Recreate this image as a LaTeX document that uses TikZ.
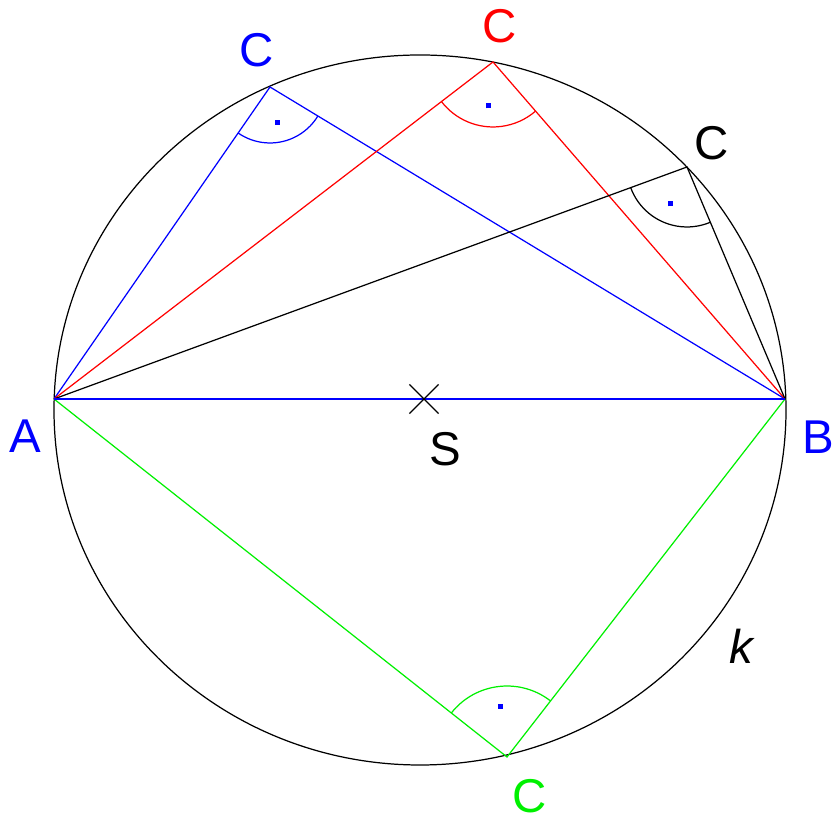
\documentclass[tikz,border=0pt]{standalone}
\usepackage{fontspec}
\setmainfont{Liberation Sans}
\usepackage{tikz}
\usetikzlibrary{angles,quotes,shapes.misc}
\definecolor{colBlue}{RGB}{0,0,255}
\definecolor{colRed}{RGB}{255,0,0}
\definecolor{colGreen}{RGB}{0,240,0}
\newcommand{\rdot}{\textcolor{colBlue}{\rule{0.1cm}{0.1cm}}}
\tikzset{
  seg/.style   = {line width=0.7pt},
  bseg/.style  = {seg, draw=colBlue},
  rseg/.style  = {seg, draw=colRed},
  gseg/.style  = {seg, draw=colGreen},
  kseg/.style  = {seg, draw=black},
  lbl/.style   = {inner sep=0pt, font=\fontsize{27}{32}\selectfont},
  rmark/.style = {draw, line width=0.7pt},
}

\begin{document}
\begin{tikzpicture}[x=0.02cm, y=0.02cm]

\useasboundingbox (0,0) rectangle (834,820);

%% Thales circle k
\draw[seg] (420,410) ellipse [x radius=366, y radius=355];

%% Points
\coordinate (A)  at (54,421);
\coordinate (B)  at (785,421);
\coordinate (Cb) at (270,733);
\coordinate (Cr) at (493,758);
\coordinate (Ck) at (687,653);
\coordinate (Cg) at (507,63);

%% Triangles
\draw[bseg] (A) -- (Cb) -- (B);
\draw[rseg] (A) -- (Cr) -- (B);
\draw[kseg] (A) -- (Ck) -- (B);
\draw[gseg] (A) -- (Cg) -- (B);
\draw[bseg, line width=0.9pt] (A) -- (B);
\node[cross out, draw, seg, minimum size=0.56cm, inner sep=0pt] (S) at (424,421) {};

%% Right angles at C
\pic[rmark, draw=colBlue, angle radius=1.12cm, angle eccentricity=0.64, "\rdot"] {angle=A--Cb--B};
\pic[rmark, draw=colRed, angle radius=1.3cm, angle eccentricity=0.68, "\rdot"] {angle=A--Cr--B};
\pic[rmark, draw=black, angle radius=1.2cm, angle eccentricity=0.67, "\rdot"] {angle=A--Ck--B};
\pic[rmark, draw=colGreen, angle radius=1.42cm, angle eccentricity=0.72, "\rdot"] {angle=B--Cg--A};

%% Labels
\node[lbl, text=colBlue]  (lA)  at (25,384)  {A};
\node[lbl, text=colBlue]  (lB)  at (818,383) {B};
\node[lbl]                (lS)  at (445,371) {S};
\node[lbl, text=colBlue]  (lCb) at (257,770) {C};
\node[lbl, text=colRed]   (lCr) at (500,794) {C};
\node[lbl]                (lCk) at (712,677) {C};
\node[lbl, text=colGreen] (lCg) at (530,24)  {C};
\node[lbl, font=\fontsize{27}{32}\selectfont\itshape] (lk) at (741,174) {k};

\end{tikzpicture}
\end{document}
